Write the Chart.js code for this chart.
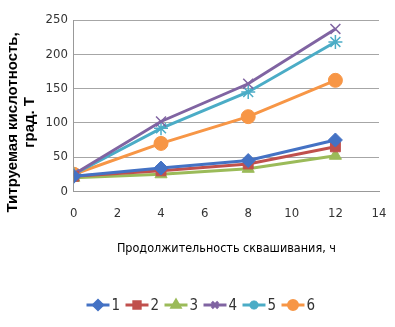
<!DOCTYPE html>
<html>
<head>
<meta charset="utf-8">
<script src="https://cdn.jsdelivr.net/npm/chart.js@4"></script>
<style>
  html, body { margin: 0; padding: 0; background: #fff; }
  #wrap { width: 395px; height: 327px; }
</style>
</head>
<body>
<div id="wrap"><canvas id="grafico1" width="395" height="327"></canvas></div>
<script>
const hours = [0, 4, 8, 12];
const labels = ['1', '2', '3', '4', '5', '6'];
const s1 = [22, 34, 45, 75];
const s2 = [22, 30, 40, 65];
const s3 = [20, 25, 33, 52];
const s4 = [25, 102, 157, 237];
const s5 = [25, 92, 145, 218];
const s6 = [25, 70, 109, 162];
const colors = ['#4472c4', '#c0504d', '#9bbb59', '#8064a2', '#4bacc6', '#f79646'];
const markers = ['rectRot', 'rect', 'triangle', 'crossRot', 'star', 'circle'];
const allSeries = [s1, s2, s3, s4, s5, s6];

const narrow = "'DejaVu Sans Condensed', 'Liberation Sans Narrow', sans-serif";

const datasets = allSeries.map((s, i) => ({
  label: labels[i],
  data: s.map((v, j) => ({ x: hours[j], y: v })),
  borderColor: colors[i],
  backgroundColor: colors[i],
  borderWidth: 3,
  pointStyle: markers[i],
  pointRadius: 7,
  pointBorderWidth: markers[i] === 'crossRot' || markers[i] === 'star' ? 1.5 : 1,
  tension: 0
}));

// legend drawn as line + marker like the original
const lineLegend = {
  id: 'lineLegend',
  afterDraw(chart) {
    const ctx = chart.ctx;
    const itemW = 39;
    const total = itemW * datasets.length;
    let x = (chart.width - total) / 2 + 6;
    const y = 305;
    ctx.save();
    ctx.font = '15px ' + narrow;
    ctx.textBaseline = 'middle';
    datasets.forEach((d, i) => {
      ctx.strokeStyle = d.borderColor;
      ctx.lineWidth = 3;
      ctx.beginPath();
      ctx.moveTo(x, y);
      ctx.lineTo(x + 23, y);
      ctx.stroke();
      ctx.fillStyle = d.borderColor;
      Chart.helpers.drawPoint(ctx, {
        pointStyle: d.pointStyle, radius: 4.5, rotation: 0, borderWidth: 1
      }, x + 11.5, y);
      ctx.fillStyle = '#333';
      ctx.fillText(d.label, x + 25, y + 1);
      x += itemW;
    });
    ctx.restore();
  }
};

new Chart(document.getElementById('grafico1').getContext('2d'), {
  type: 'line',
  data: { datasets },
  options: {
    responsive: false,
    animation: false,
    layout: { padding: { top: 20, right: 16, bottom: 67, left: 0 } },
    plugins: {
      legend: { display: false },
      tooltip: { enabled: false }
    },
    scales: {
      x: {
        type: 'linear',
        min: 0, max: 14,
        ticks: { stepSize: 2, color: '#333', font: { family: narrow, size: 13 }, padding: 8 },
        grid: { display: false, drawOnChartArea: false, drawTicks: true, tickLength: 6 },
        border: { color: '#999' },
        title: {
          display: true,
          text: 'Продолжительность сквашивания, ч',
          color: '#000',
          font: { family: narrow, size: 12.5 },
          padding: { top: 12 }
        }
      },
      y: {
        min: 0, max: 250,
        ticks: { stepSize: 50, color: '#333', font: { family: narrow, size: 13 }, padding: 6 },
        grid: { color: '#a6a6a6', drawTicks: false },
        border: { color: '#999' },
        title: {
          display: true,
          // trailing spaces push the rotated title a little lower, as in the original
          text: ['Титруемая кислотность,        ', 'град. Т        '],
          color: '#000',
          font: { family: "'Liberation Sans', Arial, sans-serif", size: 15, weight: 'bold', lineHeight: 1.15 },
          padding: { bottom: 1 }
        }
      }
    }
  },
  plugins: [lineLegend]
});
</script>
</body>
</html>
